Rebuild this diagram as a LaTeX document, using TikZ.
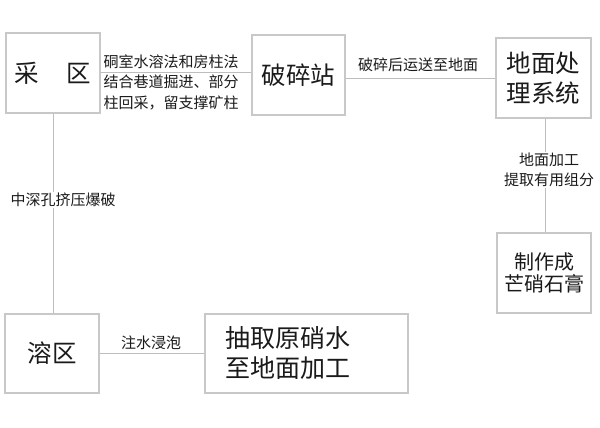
\documentclass[tikz,border=0pt]{standalone}
\usepackage{fontspec}
\newfontfamily\cjk{Noto Sans CJK SC}
\definecolor{boxc}{HTML}{C8C8C8}
\definecolor{linec}{HTML}{BDBDBD}
\definecolor{txtc}{HTML}{1A1A1A}
\begin{document}
\begin{tikzpicture}[x=1pt,y=-1pt,
  box/.style={draw=boxc,line width=1.2pt,rectangle,inner sep=0pt,text=txtc,font=\cjk\fontsize{24.5}{30}\selectfont,align=center},
  lbl/.style={text=txtc,font=\cjk\fontsize{15}{20.5}\selectfont,align=center,inner sep=1pt},
  conn/.style={draw=linec,line width=1pt}]
\useasboundingbox (0,0) rectangle (600,428);
\fill[white] (0,0) rectangle (600,428);
\node[box,minimum width=94pt,minimum height=80pt] (cai) at (53,73) {采\hspace{28pt}区};
\node[box,minimum width=93pt,minimum height=80pt] (posui) at (298.5,75) {破碎站};
\node[box,minimum width=95pt,minimum height=80pt] (dimian) at (543.5,78) {地面处\\理系统};
\node[box,minimum width=94pt,minimum height=80pt,font=\cjk\fontsize{20}{22}\selectfont] (zhizuo) at (544,273) {制作成\\芒硝石膏};
\node[box,minimum width=94pt,minimum height=79pt] (rong) at (52,353.5) {溶区};
\node[box,minimum height=79pt,text width=163pt,align=left,inner xsep=20pt,font=\cjk\fontsize{25}{30}\selectfont] (chouqu) at (306.5,353.5) {抽取原硝水\\至地面加工};
\draw[conn] (cai.east |- 0,73) -- (posui.west |- 0,73);
\draw[conn] (posui.east |- 0,79) -- (dimian.west |- 0,79);
\draw[conn] (dimian.south -| 545,0) -- (zhizuo.north -| 545,0);
\draw[conn] (cai.south) -- (rong.north -| cai.south);
\draw[conn] (rong.east |- 0,353) -- (chouqu.west |- 0,353);
\node[lbl] (l1) at (171,82) {硐室水溶法和房柱法\\结合巷道掘进、部分\\柱回采，留支撑矿柱};
\node[lbl] (l2) at (418,65) {破碎后运送至地面};
\node[lbl,fill=white] (l3) at (549,170) {地面加工\\提取有用组分};
\node[lbl,fill=white] (l4) at (63,200) {中深孔挤压爆破};
\node[lbl] (l5) at (151,343) {注水浸泡};
\end{tikzpicture}
\end{document}
